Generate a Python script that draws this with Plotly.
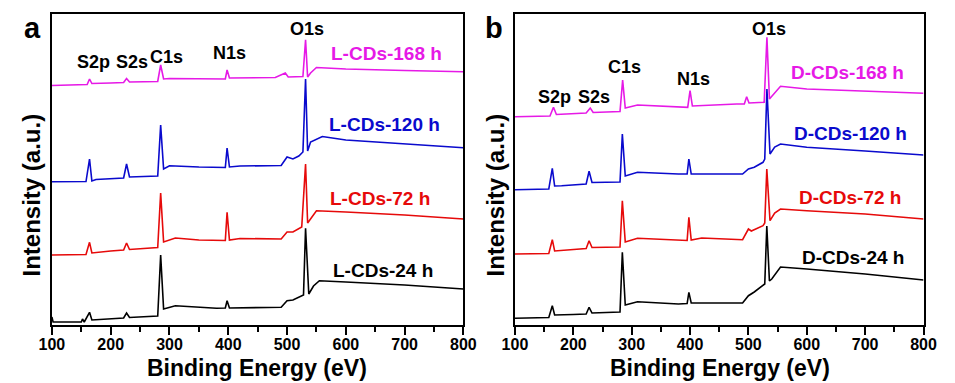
import plotly.graph_objects as go

W, H = 955, 383

# ---------------- data (binding energy in eV, intensity in a.u.) ----------------
L168_E = [100, 150, 160, 164, 168, 200, 222, 227, 232, 280, 285, 290, 300, 395, 398, 402, 480, 497, 502, 527, 531.5, 535, 540, 550, 600, 700, 800]
L168_I = [239.5, 240, 240.5, 246, 241.5, 242, 242.5, 246.5, 243, 243.5, 260, 246, 246.5, 246, 255, 247, 247.5, 252, 248, 248.5, 285.3, 248, 252, 257.5, 256, 254.5, 253.3]

L120_E = [100, 158, 164, 168, 175, 222, 227, 232, 280, 285, 290, 300, 350, 395, 398, 402, 420, 490, 500, 510, 520, 527, 531.5, 535, 540, 545, 560, 600, 700, 800]
L120_I = [143.3, 143.5, 166, 144, 145.5, 147, 161, 148, 149, 200, 156, 159.3, 158, 157.5, 177, 158, 159, 159.5, 168, 166, 169, 173, 246, 174, 183, 184.5, 188.5, 185, 181, 177.3]

L72_E = [100, 158, 164, 168, 200, 222, 227, 232, 280, 285, 290, 310, 350, 395, 398, 402, 420, 490, 500, 510, 525, 531.5, 535, 540, 550, 600, 700, 800]
L72_I = [70, 70.5, 82.7, 72, 74, 75, 82, 75.5, 77.5, 132, 83, 87, 85, 84.5, 112.7, 85, 86.5, 86, 93, 93, 98, 161, 102, 106, 114.3, 113, 110, 106]

L24_E = [100, 102, 150, 152, 155, 164, 168, 200, 222, 227, 232, 280, 285, 290, 310, 380, 395, 398, 402, 490, 500, 510, 525, 528, 531.5, 537, 545, 555, 600, 700, 800]
L24_I = [8, 3, 3, 6, 3, 12.7, 5, 6, 7, 12, 7.5, 9, 70, 16, 19.3, 16.7, 17, 24.3, 17, 17.7, 24.3, 25, 28.7, 30, 96.7, 31, 39, 44.3, 43, 40, 36]

D168_E = [100, 160, 166, 171, 222, 229, 234, 280, 284.5, 289, 310, 380, 396, 400, 404, 480, 493, 497, 501, 527, 531.7, 536, 545, 555, 600, 700, 800]
D168_I = [208.3, 209, 217.7, 210.5, 212, 217, 212.5, 213.5, 245, 217, 220, 217.7, 217.7, 234.3, 219, 221, 221, 228.3, 222, 222.7, 287.7, 226, 232, 238.7, 236, 234, 231.7]

D120_E = [100, 158, 164, 168, 180, 222, 227, 232, 280, 284, 289, 310, 380, 395, 398, 402, 490, 500, 510, 525, 528, 531.7, 537, 545, 555, 600, 700, 800]
D120_I = [135.3, 136, 156.7, 139, 139.3, 141, 153.7, 142.5, 143, 191, 149, 152.7, 151, 151, 166, 151, 151, 156, 157.7, 162.7, 166, 236, 171, 178, 181, 177.7, 174, 170]

D72_E = [100, 158, 164, 168, 222, 227, 232, 270, 280, 284, 289, 310, 380, 395, 398, 402, 420, 490, 500, 505, 525, 528, 531.5, 537, 545, 555, 600, 700, 800]
D72_I = [71, 71.5, 85.3, 74, 76.5, 84.3, 77.5, 77.7, 78, 124.3, 83, 86.7, 84.3, 84.5, 107.7, 85, 87, 85.3, 96, 94, 99.3, 102, 156, 104.3, 112, 116, 114.3, 111, 106]

D24_E = [100, 158, 164, 168, 200, 222, 227, 232, 280, 284, 289, 310, 380, 395, 398, 402, 490, 500, 510, 525, 528, 531.5, 536, 540, 555, 600, 700, 800]
D24_I = [6.7, 7.5, 19.3, 10, 10.5, 11, 17.7, 12, 13, 72.7, 20, 23.3, 21, 21.5, 32.7, 22, 22, 29.3, 33, 39.3, 41, 99, 44, 46, 58, 56, 51, 45]

TICKS = [100, 200, 300, 400, 500, 600, 700, 800]
PEAK_LABELS = ["S2p", "S2s", "C1s", "N1s", "O1s"]
L_NAMES = ["L-CDs-24 h", "L-CDs-72 h", "L-CDs-120 h", "L-CDs-168 h"]
D_NAMES = ["D-CDs-24 h", "D-CDs-72 h", "D-CDs-120 h", "D-CDs-168 h"]

COLORS = ["#000000", "#e60a0a", "#0a0acd", "#e619e6"]

# --------------------------------------------------------------------------------
fig = go.Figure()

panels = [
    ("x", "y", [(L24_E, L24_I), (L72_E, L72_I), (L120_E, L120_I), (L168_E, L168_I)], L_NAMES),
    ("x2", "y2", [(D24_E, D24_I), (D72_E, D72_I), (D120_E, D120_I), (D168_E, D168_I)], D_NAMES),
]
for xa, ya, series, names in panels:
    for (e, i), c, n in zip(series, COLORS, names):
        fig.add_trace(go.Scatter(x=e, y=i, mode="lines", name=n, xaxis=xa, yaxis=ya,
                                 line=dict(color=c, width=1.6), showlegend=False))

def px(x):
    return x / W

def py(y):
    return 1 - y / H

ydom = [py(325), py(14)]
axis_common = dict(range=[100, 800], tickvals=TICKS, ticks="outside", ticklen=8, tickwidth=1.5,
                   tickcolor="black", showline=True, linecolor="black", linewidth=1.8, mirror=True,
                   showgrid=False, zeroline=False, ticklabelstandoff=-4,
                   tickfont=dict(family="Arial, Liberation Sans", size=16, color="black", weight="bold"),
                   minor=dict(dtick=50, tick0=50, ticks="outside", ticklen=5, tickwidth=1.5, tickcolor="black"))
yaxis_common = dict(range=[0, 311], showline=True, linecolor="black", linewidth=1.8, mirror=True,
                    showgrid=False, zeroline=False, showticklabels=False, ticks="")

fig.update_layout(
    width=W, height=H, margin=dict(l=0, r=0, t=0, b=0),
    paper_bgcolor="white", plot_bgcolor="white",
    xaxis=dict(domain=[px(40), px(463)], anchor="y", **axis_common),
    yaxis=dict(domain=ydom, anchor="x", **yaxis_common),
    xaxis2=dict(domain=[px(516), px(936)], anchor="y2", **axis_common),
    yaxis2=dict(domain=ydom, anchor="x2", **yaxis_common),
)

FONT = "Arial, Liberation Sans"

def text(x, y, s, size, color="black", angle=0):
    fig.add_annotation(x=px(x), y=py(y), xref="paper", yref="paper", text=s, showarrow=False,
                       textangle=angle, xanchor="center", yanchor="middle",
                       font=dict(family=FONT, size=size, color=color, weight="bold"))

# panel letters
text(20, 28, "a", 29)
text(494, 28, "b", 29)
# axis titles
text(251, 368, "Binding Energy (eV)", 23)
text(727, 368, "Binding Energy (eV)", 23)
text(18, 195, "Intensity (a.u.)", 24, angle=-90)
text(495, 195, "Intensity (a.u.)", 24, angle=-90)

# peak labels
pa = [(83, 62), (122, 62), (158, 57), (223, 53), (302, 29)]
pb = [(557, 97), (597, 97), (629, 67), (700, 79), (777, 29)]
for lab, (x, y) in zip(PEAK_LABELS, pa):
    text(x, y, lab, 18)
for lab, (x, y) in zip(PEAK_LABELS, pb):
    text(x, y, lab, 18)

# series labels
la = [(380, 270), (377, 198), (382, 125), (384, 53)]
lb = [(863, 257), (860, 197), (861, 133), (858, 72)]
for n, c, (x, y) in zip(L_NAMES, COLORS, la):
    text(x, y, n, 19, c)
for n, c, (x, y) in zip(D_NAMES, COLORS, lb):
    text(x, y, n, 19, c)

fig.write_html("out.html")
